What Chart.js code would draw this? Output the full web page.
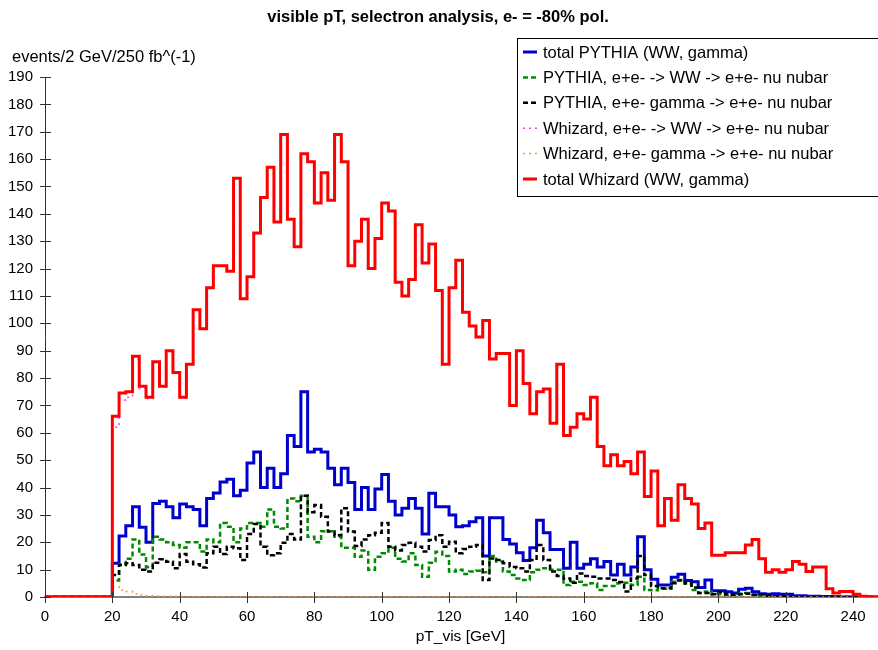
<!DOCTYPE html>
<html>
<head>
<meta charset="utf-8">
<title>visible pT, selectron analysis</title>
<script src="https://cdn.jsdelivr.net/npm/chart.js@4.4.1/dist/chart.umd.min.js"></script>
<style>
  html, body { margin: 0; padding: 0; background: #fff; }
  #wrap { width: 878px; height: 650px; }
</style>
</head>
<body>
<div id="wrap"><canvas id="ptChart" width="878" height="650"></canvas></div>
<script>
// 2 GeV bins, left edges from 20 GeV upward (everything below 20 GeV is empty)
const binStart = 20;
const binWidth = 2;
const xTicks = [0, 20, 40, 60, 80, 100, 120, 140, 160, 180, 200, 220, 240];
const yTicks = [0, 10, 20, 30, 40, 50, 60, 70, 80, 90, 100, 110, 120, 130, 140, 150, 160, 170, 180, 190];

const labels = [
  'total PYTHIA (WW, gamma)',
  'PYTHIA, e+e- -> WW -> e+e- nu nubar',
  'PYTHIA, e+e- gamma -> e+e- nu nubar',
  'Whizard, e+e- -> WW -> e+e- nu nubar',
  'Whizard, e+e- gamma -> e+e- nu nubar',
  'total Whizard (WW, gamma)'
];

const pythiaTotal = [
  12.3, 22.3, 26, 33, 25.5, 20, 34.2, 35, 33, 29,
  34, 33, 32, 26, 36, 38, 42, 43, 37, 39,
  49, 53, 40, 47, 40, 45, 59, 55, 75, 53,
  54, 53, 47, 41, 47, 41.8, 32, 40, 32, 39.5,
  44.8, 35, 30, 32.4, 36, 32.4, 23, 37.9, 33, 33,
  30, 25.7, 26, 27.5, 29, 15, 29, 29, 21, 19.4,
  16.2, 13.3, 18, 28, 23.5, 17.4, 17.4, 10.5, 20, 10.5,
  12, 14, 11, 13, 8, 12, 8, 11, 22, 10,
  6.5, 4.4, 4.4, 7.2, 8.3, 6, 5.6, 3.5, 6.2, 2.3,
  2.3, 1.9, 1.5, 2.8, 3.2, 1.9, 1.2, 1, 1.2, 1,
  1, 0.5, 0.5, 0.3, 0.3, 0.2, 0.2, 0.1, 0, 0,
  0, 0, 0, 0
];

const pythiaWW = [
  6, 12, 14, 21, 15.5, 11, 22, 21, 20, 19,
  18, 20, 20, 16.6, 21, 20, 27, 25.7, 20, 25,
  27, 27, 25.7, 32, 25.7, 25, 36, 35, 37, 22,
  20, 24, 24, 22, 18, 18, 14.7, 17, 10, 14.7,
  16, 18, 14, 13, 16, 11.7, 7.4, 12.5, 16.5, 15,
  9.3, 10, 8.4, 9.3, 9.6, 9, 15, 13, 9.3, 8,
  6.8, 6.2, 9, 10, 10.5, 10, 10, 4.4, 5.6, 5.6,
  4.4, 5, 2.6, 4, 4, 5, 5.2, 4.4, 7.4, 2.6,
  2.5, 3, 3, 5.6, 6.2, 4.8, 2.6, 1.5, 2, 1,
  1, 0.8, 0.6, 1.2, 1.5, 0.8, 0.3, 0.3, 0.2, 0,
  0, 0, 0, 0, 0, 0, 0, 0, 0, 0,
  0, 0, 0, 0
];

const pythiaGamma = [
  8, 11.7, 12.3, 11.7, 10, 9.3, 12.5, 13.8, 12.9, 10.5,
  15.7, 12.9, 12, 10.8, 16, 18.4, 15.7, 18.4, 17.8, 13.5,
  23, 26.7, 18.4, 15.3, 16, 19.8, 23, 21, 37, 31,
  33.6, 29.3, 23.9, 22.6, 32.4, 23.9, 18.6, 21, 22.6, 23.5,
  27, 18.4, 17, 19, 19.8, 18.4, 16.6, 20.8, 22.6, 18.4,
  20.2, 16, 17.5, 18.4, 19, 6.2, 14.1, 13.5, 12.3, 11,
  10.5, 9.3, 13.5, 19, 13.5, 9.3, 7.7, 6.8, 5.2, 8.6,
  7.7, 7.4, 6.8, 6.8, 6.2, 5.5, 2, 6.8, 15, 8,
  4, 3.2, 3.2, 5, 6, 5, 3.5, 1.5, 1.5, 1,
  1.8, 1, 0.8, 1, 1.2, 0.8, 1, 0.5, 0.3, 0.3,
  0.2, 0, 0, 0, 0, 0, 0, 0, 0, 0,
  0, 0, 0, 0
];

const whizardWW = [
  62, 72, 73, 86.8, 76.2, 72.5, 85.6, 76.7, 89.7, 81.8,
  72.8, 85, 105, 98, 113, 121, 121, 119, 153, 109,
  117, 133, 146, 157, 137, 169, 138, 128, 162, 159,
  144, 155, 145, 169, 159, 121, 130, 138, 120, 131,
  144, 141, 115, 110, 116, 136, 122, 129, 112, 85,
  113, 123, 104, 99, 95, 101, 87, 89, 89, 70,
  90, 78, 67, 75, 76, 63.5, 85, 59, 62, 67,
  65, 73, 55, 48, 52, 48, 49.5, 45, 53, 36.7,
  46, 26, 36, 28, 41, 36, 34, 25, 27, 15.3,
  15.3, 16.2, 16.2, 16.2, 19, 21, 14, 9, 10, 9,
  10, 13, 12, 9.3, 11, 11, 3, 1.5, 2, 2,
  1, 0.3, 0, 0
];

const whizardGamma = [
  3.8, 2.5, 2, 1.2, 0.8, 0.5, 0.4, 0.3, 0.3, 0.2,
  0.2, 0, 0, 0, 0, 0, 0, 0, 0, 0,
  0, 0, 0, 0, 0, 0, 0, 0, 0, 0,
  0, 0, 0, 0, 0, 0, 0, 0, 0, 0,
  0, 0, 0, 0, 0, 0, 0, 0, 0, 0,
  0, 0, 0, 0, 0, 0, 0, 0, 0, 0,
  0, 0, 0, 0, 0, 0, 0, 0, 0, 0,
  0, 0, 0, 0, 0, 0, 0, 0, 0, 0,
  0, 0, 0, 0, 0, 0, 0, 0, 0, 0,
  0, 0, 0, 0, 0, 0, 0, 0, 0, 0,
  0, 0, 0, 0, 0, 0, 0, 0, 0, 0,
  0, 0, 0, 0
];

const whizardTotal = [
  66, 74.5, 75, 88, 77, 73, 86, 77, 90, 82,
  73, 85, 105, 98, 113, 121, 121, 119, 153, 109,
  117, 133, 146, 157, 137, 169, 138, 128, 162, 159,
  144, 155, 145, 169, 159, 121, 130, 138, 120, 131,
  144, 141, 115, 110, 116, 136, 122, 129, 112, 85,
  113, 123, 104, 99, 95, 101, 87, 89, 89, 70,
  90, 78, 67, 75, 76, 63.5, 85, 59, 62, 67,
  65, 73, 55, 48, 52, 48, 49.5, 45, 53, 36.7,
  46, 26, 36, 28, 41, 36, 34, 25, 27, 15.3,
  15.3, 16.2, 16.2, 16.2, 19, 21, 14, 9, 10, 9,
  10, 13, 12, 9.3, 11, 11, 3, 1.5, 2, 2,
  1, 0.3, 0, 0
];

// turn bin contents into step points: empty from 0 up to the first bin, then one point per left edge
function histPoints(values) {
  const pts = [{ x: 0, y: 0 }];
  values.forEach((v, i) => pts.push({ x: binStart + i * binWidth, y: v }));
  pts.push({ x: binStart + values.length * binWidth, y: values[values.length - 1] });
  return pts;
}

const FONT = '"Liberation Sans", Arial, Helvetica, sans-serif';

// titles, crossing tick marks and the boxed legend are drawn by hand
const decorations = {
  id: 'decorations',
  afterDraw(chart) {
    const ctx = chart.ctx;
    const area = chart.chartArea;
    const xs = chart.scales.x;
    const ys = chart.scales.y;
    ctx.save();

    // tick marks crossing the axes
    ctx.strokeStyle = '#333';
    ctx.lineWidth = 1;
    ctx.setLineDash([]);
    yTicks.forEach(v => {
      const y = Math.round(ys.getPixelForValue(v)) + 0.5;
      ctx.beginPath();
      ctx.moveTo(area.left - 5, y);
      ctx.lineTo(area.left + 6, y);
      ctx.stroke();
    });
    xTicks.forEach(v => {
      const x = Math.round(xs.getPixelForValue(v)) + 0.5;
      ctx.beginPath();
      ctx.moveTo(x, area.bottom - 5);
      ctx.lineTo(x, area.bottom + 6);
      ctx.stroke();
    });

    // main title and axis titles
    ctx.fillStyle = '#000';
    ctx.textBaseline = 'middle';
    ctx.textAlign = 'center';
    ctx.font = 'bold 16.5px ' + FONT;
    ctx.fillText('visible pT, selectron analysis, e- = -80% pol.', 438, 17);
    ctx.font = '15.5px ' + FONT;
    ctx.fillText('pT_vis [GeV]', (area.left + area.right) / 2 - 1, 637);
    ctx.font = '16.5px ' + FONT;
    ctx.textAlign = 'left';
    ctx.fillText('events/2 GeV/250 fb^(-1)', 12, 57);

    // legend box
    const bx = 517.5, by = 38.5;
    ctx.fillStyle = '#fff';
    ctx.fillRect(bx, by, 370, 158);
    ctx.strokeStyle = '#000';
    ctx.lineWidth = 1;
    ctx.strokeRect(bx, by, 370, 158);
    chart.data.datasets.forEach((ds, i) => {
      const y = 52 + i * 25.4;
      ctx.strokeStyle = ds.borderColor;
      ctx.lineWidth = ds.borderWidth;
      ctx.setLineDash(ds.borderDash || []);
      ctx.beginPath();
      ctx.moveTo(523, y);
      ctx.lineTo(537, y);
      ctx.stroke();
      ctx.setLineDash([]);
      ctx.fillStyle = '#000';
      ctx.font = '16.5px ' + FONT;
      ctx.textAlign = 'left';
      ctx.fillText(ds.label, 543, y + 1);
    });
    ctx.restore();
  }
};

const ctx = document.getElementById('ptChart').getContext('2d');

const ptChart = new Chart(ctx, {
  type: 'line',
  data: {
    datasets: [
      { label: labels[0], data: histPoints(pythiaTotal), borderColor: '#0000cc', borderWidth: 3, order: 5 },
      { label: labels[1], data: histPoints(pythiaWW), borderColor: '#008a00', borderWidth: 2.5, borderDash: [5, 3], order: 4 },
      { label: labels[2], data: histPoints(pythiaGamma), borderColor: '#000000', borderWidth: 2.5, borderDash: [5, 3], order: 3 },
      { label: labels[3], data: histPoints(whizardWW), borderColor: '#ee44ee', borderWidth: 1.5, borderDash: [2, 4], order: 2 },
      { label: labels[4], data: histPoints(whizardGamma), borderColor: '#ff9933', borderWidth: 1.5, borderDash: [2, 4], order: 1 },
      { label: labels[5], data: histPoints(whizardTotal), borderColor: '#ff0000', borderWidth: 3, order: 0 }
    ]
  },
  options: {
    responsive: false,
    animation: false,
    layout: { padding: { top: 77, right: 0, left: 0, bottom: 0 } },
    elements: {
      point: { radius: 0 },
      line: { stepped: 'before', tension: 0, fill: false, borderCapStyle: 'butt', borderJoinStyle: 'miter' }
    },
    plugins: {
      legend: { display: false },
      title: { display: false },
      tooltip: { enabled: false }
    },
    scales: {
      x: {
        type: 'linear',
        min: 0,
        max: 247.4,
        grid: { display: false, drawTicks: false },
        border: { display: true, color: '#808080', width: 2 },
        ticks: {
          stepSize: 20,
          includeBounds: false,
          color: '#000',
          padding: 11,
          maxRotation: 0,
          font: { family: FONT, size: 15 }
        },
        afterFit(scale) { scale.height = 53; }
      },
      y: {
        min: 0,
        max: 190,
        grid: { display: false, drawTicks: false },
        border: { display: true, color: '#333', width: 1 },
        ticks: {
          stepSize: 10,
          color: '#000',
          padding: 12,
          font: { family: FONT, size: 15 }
        },
        afterFit(scale) { scale.width = 45; }
      }
    }
  },
  plugins: [decorations]
});
</script>
</body>
</html>
